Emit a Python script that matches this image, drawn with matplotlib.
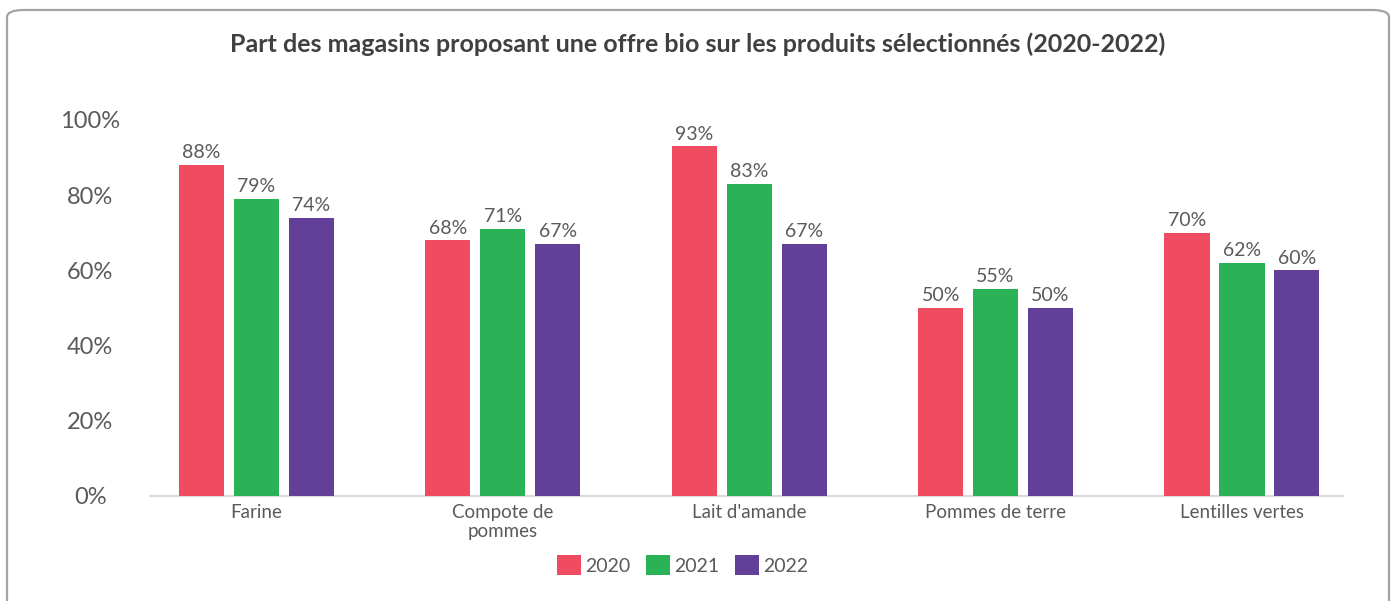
import numpy as np
import matplotlib.pyplot as plt
from matplotlib.patches import FancyBboxPatch, Patch

categories = ["Farine", "Compote de\npommes", "Lait d'amande", "Pommes de terre", "Lentilles vertes"]
years = ["2020", "2021", "2022"]
values_2020 = [88, 68, 93, 50, 70]
values_2021 = [79, 71, 83, 55, 62]
values_2022 = [74, 67, 67, 50, 60]
colors = ["#EF4B61", "#2BB256", "#623F98"]

plt.rcParams["font.family"] = ["Lato", "DejaVu Sans"]
text_color = "#5a5a5a"

W, H = 1395, 601
fig = plt.figure(figsize=(W / 100, H / 100), dpi=100)

# rounded frame around the chart
frame = FancyBboxPatch((7 / W, -0.05), (1389 - 7) / W, (H - 10) / H + 0.05,
                       boxstyle="round,pad=0,rounding_size=0.012",
                       transform=fig.transFigure, facecolor="none",
                       edgecolor="#a8a29e", linewidth=1.6, zorder=-1)
fig.patches.append(frame)

ax = fig.add_axes([150 / W, 1 - 496 / H, (1343 - 150) / W, (496 - 120) / H])
ax.set_facecolor("none")

x = np.arange(len(categories))
bar_w = 0.183
offset = 0.223
series = [values_2020, values_2021, values_2022]
for i, (vals, col) in enumerate(zip(series, colors)):
    bars = ax.bar(x + (i - 1) * offset, vals, width=bar_w, color=col, zorder=3)
    for b, v in zip(bars, vals):
        ax.text(b.get_x() + b.get_width() / 2, v + 1.0, f"{v}%",
                ha="center", va="bottom", fontsize=14, color=text_color)

ax.set_xlim(-0.432, 4.41)
ax.set_ylim(0, 100)
ax.set_yticks([0, 20, 40, 60, 80, 100])
ax.set_yticklabels([f"{t}%" for t in [0, 20, 40, 60, 80, 100]],
                   fontsize=17, color=text_color, ha="center")
ax.tick_params(axis="y", length=0, pad=43)
ax.set_xticks(x)
ax.set_xticklabels(categories, fontsize=13.5, color=text_color, linespacing=1.15)
ax.tick_params(axis="x", length=0, pad=6)

for s in ["top", "right", "left"]:
    ax.spines[s].set_visible(False)
ax.spines["bottom"].set_color("#d9d9d9")
ax.spines["bottom"].set_linewidth(1.5)

fig.text(0.5, 1 - 44 / H, "Part des magasins proposant une offre bio sur les produits sélectionnés (2020-2022)",
         ha="center", va="center", fontsize=18, fontweight="bold", color="#404040")

handles = [Patch(facecolor=c, edgecolor="none") for c in colors]
fig.legend(handles, years, loc="center", bbox_to_anchor=(683 / W, 1 - 565 / H),
           ncol=3, frameon=False, fontsize=14, labelcolor=text_color,
           handlelength=1.2, handleheight=1.2, handletextpad=0.25, columnspacing=0.8)

fig.savefig("out.png", dpi=100)
